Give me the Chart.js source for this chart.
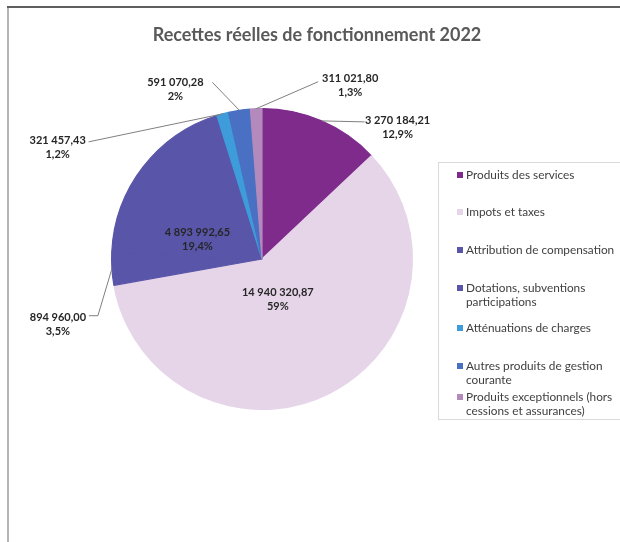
<!DOCTYPE html>
<html>
<head>
<meta charset="utf-8">
<script src="https://cdn.jsdelivr.net/npm/chart.js@4.4.1/dist/chart.umd.min.js"></script>
<style>
  html, body { margin: 0; padding: 0; background: #fff; }
  #wrap { width: 620px; height: 542px; }
</style>
</head>
<body>
<div id="wrap"><canvas id="recettes" width="620" height="542"></canvas></div>
<script>
// Données
const titre = "Recettes réelles de fonctionnement 2022";

const categories = [
    ["Produits des services"],
    ["Impots et taxes"],
    ["Attribution de compensation"],
    ["Dotations, subventions", "participations"],
    ["Atténuations de charges"],
    ["Autres produits de gestion", "courante"],
    ["Produits exceptionnels (hors", "cessions et assurances)"]
];

const montants = [3270184.21, 14940320.87, 894960.00, 4893992.65, 321457.43, 591070.28, 311021.80];

const pourcentages = ["12,9%", "59%", "3,5%", "19,4%", "1,2%", "2%", "1,3%"];

const couleurs = ["#7e2b8c", "#e6d5e9", "#5955a9", "#5955a9", "#3d9cd9", "#4a70c3", "#b48abd"];

// Placement des étiquettes (décalages par rapport au bord ou au centre de la part)
const placements = [
    { dehors: true,  texte: [76, 0],    trait: [[43, 1]] },
    { dehors: false, texte: [-18, -34] },
    { dehors: true,  texte: [-54, 49],  trait: [[-14, 47], [-23, 47]] },
    { dehors: false, texte: [-5, 19] },
    { dehors: true,  texte: [-165, 27], trait: [[-134, 28]] },
    { dehors: true,  texte: [-64, -28], trait: [[-27, -28]] },
    { dehors: true,  texte: [94, -30],  trait: [[62, -27]] }
];

// Légende
const legendeLignes = [175, 212, 250, 288, 328, 366, 397];

// Format "3 270 184,21"
function formatMontant(v) {
    const parts = v.toFixed(2).split(".");
    const ent = parts[0].replace(/\B(?=(\d{3})+(?!\d))/g, " ");
    return ent + "," + parts[1];
}

const habillage = {
    id: 'habillage',
    beforeDraw(chart) {
        const c = chart.ctx;
        c.save();
        c.fillStyle = "#ffffff";
        c.fillRect(0, 0, chart.width, chart.height);
        // cadre
        c.fillStyle = "#b9b4b4";
        c.fillRect(7, 7, 2, chart.height - 7);
        c.fillStyle = "#5e5e5e";
        c.fillRect(7, 6, chart.width - 7, 2);
        c.restore();
    },
    afterDraw(chart) {
        const c = chart.ctx;
        const meta = chart.getDatasetMeta(0);
        c.save();

        // titre
        c.font = "bold 18px Lato";
        c.fillStyle = "#595959";
        c.textAlign = "center";
        c.textBaseline = "middle";
        c.fillText(titre, 317, 35);

        // étiquettes de données
        c.font = "bold 11px Lato";
        meta.data.forEach((arc, i) => {
            const p = placements[i];
            const { x, y, startAngle, endAngle, outerRadius } =
                arc.getProps(['x', 'y', 'startAngle', 'endAngle', 'outerRadius'], true);
            let ax, ay;
            if (p.dehors) {
                const mid = (startAngle + endAngle) / 2;
                ax = x + Math.cos(mid) * outerRadius;
                ay = y + Math.sin(mid) * outerRadius;
                c.strokeStyle = "#808080";
                c.lineWidth = 1;
                c.beginPath();
                c.moveTo(ax, ay);
                p.trait.forEach(pt => c.lineTo(ax + pt[0], ay + pt[1]));
                c.stroke();
            } else {
                const tp = arc.tooltipPosition(true);
                ax = tp.x;
                ay = tp.y;
            }
            const tx = ax + p.texte[0];
            const ty = ay + p.texte[1];
            c.fillStyle = "#262626";
            c.fillText(formatMontant(montants[i]), tx, ty);
            c.fillText(pourcentages[i], tx, ty + 14);
        });

        // légende (cadre ouvert à droite, coupé par le bord de l'image)
        c.strokeStyle = "#d9d9d9";
        c.lineWidth = 1;
        c.strokeRect(438.5, 162.5, 190, 257);
        c.font = "11.8px Lato";
        c.textAlign = "left";
        categories.forEach((lignes, i) => {
            const y0 = legendeLignes[i];
            c.fillStyle = couleurs[i];
            c.fillRect(457, y0 - 3, 6, 6);
            c.fillStyle = "#404040";
            lignes.forEach((t, k) => c.fillText(t, 466, y0 + k * 14));
        });
        c.restore();
    }
};

const ctx = document.getElementById('recettes').getContext('2d');
const graphique = new Chart(ctx, {
    type: 'pie',
    data: {
        labels: categories.map(l => l.join(" ")),
        datasets: [{
            data: montants,
            backgroundColor: couleurs,
            borderColor: couleurs,
            borderWidth: 1.2,
            clip: false
        }]
    },
    options: {
        responsive: false,
        devicePixelRatio: 1,
        animation: false,
        layout: {
            padding: { left: 111, right: 207, top: 108, bottom: 132 }
        },
        plugins: {
            legend: { display: false },
            title: { display: false },
            tooltip: { enabled: false }
        }
    },
    plugins: [habillage]
});
</script>
</body>
</html>
